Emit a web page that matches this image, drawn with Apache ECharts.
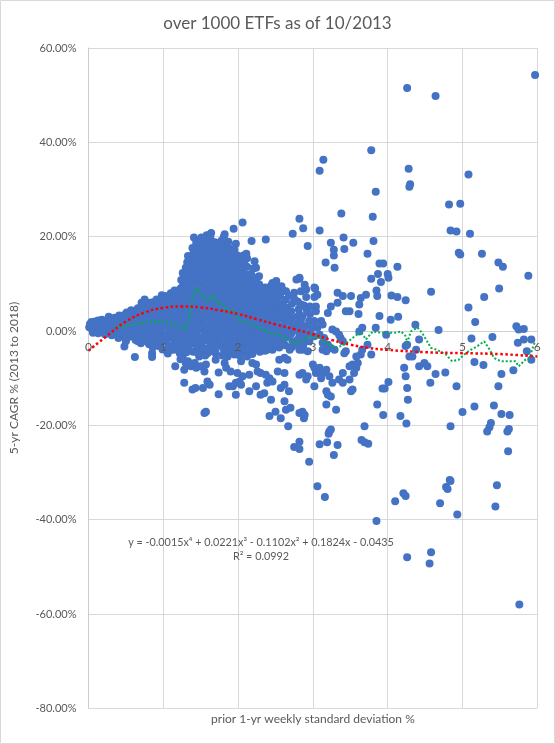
<!DOCTYPE html>
<html>
<head>
<meta charset="utf-8">
<script src="https://cdn.jsdelivr.net/npm/echarts@6/dist/echarts.min.js"></script>
<style>
html,body{margin:0;padding:0;background:#fff;}
#chart{width:555px;height:744px;}
</style>
</head>
<body>
<div id="chart"></div>
<script>
// ---- data: [prior 1-yr weekly std dev %, 5-yr CAGR %] ----
const lowVolEtfs = [
[0.01,0.8],[0.02,1.5],[0.05,0.3],[0.07,1.1],[0.09,2.0],[0.11,0.4],[0.13,-0.5],[0.15,1.3],[0.18,2.4],[0.19,0.2],
[0.22,-0.7],[0.23,1.0],[0.26,2.1],[0.27,3.0],[0.29,0.5],[0.31,-0.9],[0.33,1.7],[0.35,2.8],[0.36,0.0],[0.39,1.1],
[0.4,-1.5],[0.41,3.3],[0.43,2.1],[0.45,0.6],[0.46,-0.6],[0.48,-3.3],[0.5,-2.2],[0.5,1.5],[0.51,3.9],[0.52,2.7],
[0.54,0.2],[0.55,-1.2],[0.57,4.4],[0.58,1.9],[0.59,3.2],[0.6,-0.3],[0.62,-5.5],[0.62,0.9],[0.63,-1.9],[0.64,2.5],
[0.66,4.8],[0.67,3.7],[0.68,-0.9],[0.69,1.3],[0.69,4.9],[0.7,-2.6],[0.71,6.0],[0.72,0.2],[0.73,2.6],[0.74,4.2],
[0.75,6.7],[0.76,-1.6],[0.77,1.5],[0.78,3.3],[0.79,5.3],[0.8,-0.4],[0.81,-2.8],[0.82,2.2],[0.83,0.8],[0.84,4.5],
[0.85,-4.7],[0.85,-5.5],[0.86,6.1],[0.87,3.0],[0.88,-1.2],[0.89,1.7],[0.9,-2.2],[0.91,6.7],[0.91,4.2],[0.92,0.3],
[0.93,2.7],[0.94,-3.2],[0.95,5.4],[0.96,1.2],[0.97,-0.8],[0.98,7.6],[0.98,3.6],[0.99,-3.9]
];
const lowVolOverlap = [
[0.04,1.9],[0.06,-0.4],[0.1,1.0],[0.13,2.2],[0.16,0.3],[0.2,1.6],[0.21,-0.2],[0.25,0.6],[0.28,1.6],[0.3,-0.2],
[0.32,2.4],[0.34,0.9],[0.38,2.0],[0.38,-0.8],[0.42,1.3],[0.44,2.8],[0.44,-0.3],[0.47,0.8],[0.48,3.4],[0.49,-1.3],
[0.53,1.9],[0.55,3.3],[0.56,-0.3],[0.57,0.9],[0.6,2.6],[0.61,4.0],[0.61,-1.1],[0.65,0.1],[0.65,1.7],[0.66,-2.2],
[0.68,3.1],[0.7,4.4],[0.7,0.8],[0.72,-1.5],[0.73,5.4],[0.75,2.0],[0.76,-0.5],[0.77,3.8],[0.78,-2.2],[0.8,1.0],
[0.8,4.9],[0.81,6.0],[0.83,2.9],[0.84,-1.6],[0.85,0.1],[0.86,-3.5],[0.87,3.8],[0.88,5.3],[0.89,-0.4],[0.9,2.3],
[0.92,-1.6],[0.93,6.0],[0.93,1.0],[0.95,3.4],[0.96,-2.6],[0.97,4.6],[0.97,0.4],[0.99,6.8],[0.99,1.8],[1.0,-1.2],[1.0,3.3]
];
const coreEtfs = [
[1.02,7.4],[1.04,5.9],[1.03,4.1],[1.05,2.6],[1.02,1.0],[1.04,-0.7],[1.03,-2.2],[1.05,-3.8],[1.06,-4.8],[1.0,2.3],[1.01,5.0],
[1.1,8.0],[1.12,6.6],[1.11,5.0],[1.13,3.3],[1.1,1.8],[1.12,0.1],[1.11,-1.4],[1.13,-3.0],[1.1,-4.0],[1.16,-7.5],
[1.18,8.4],[1.2,7.8],[1.19,6.1],[1.21,4.6],[1.18,3.0],[1.2,1.4],[1.19,-0.3],[1.21,-1.8],[1.18,-3.4],[1.22,-4.7],
[1.26,12.3],[1.28,10.7],[1.26,9.5],[1.28,7.4],[1.27,5.8],[1.29,4.2],[1.26,2.6],[1.28,1.0],[1.27,-0.6],[1.29,-2.2],[1.26,-3.9],[1.28,-8.2],[1.28,-11.0],[1.26,-5.7],
[1.33,15.9],[1.3,13.4],[1.36,14.2],[1.35,12.6],[1.37,11.0],[1.34,9.4],[1.36,7.8],[1.35,6.2],[1.37,4.6],[1.34,3.0],[1.36,1.4],[1.35,-0.2],[1.37,-1.8],[1.34,-3.4],[1.33,-6.4],[1.37,-7.5],[1.38,15.2],[1.3,10.9],[1.3,-6.8],
[1.41,19.8],[1.44,18.7],[1.43,17.0],[1.45,15.4],[1.42,13.8],[1.44,12.2],[1.43,10.6],[1.45,9.0],[1.42,7.4],[1.44,5.8],[1.43,4.2],[1.45,2.6],[1.42,1.0],[1.44,-0.6],[1.43,-2.2],[1.45,-3.8],[1.44,-7.8],[1.42,-6.8],[1.39,-12.4],[1.43,-12.1],
[1.51,19.8],[1.49,18.0],[1.53,17.3],[1.5,16.4],[1.52,14.8],[1.51,13.2],[1.53,11.6],[1.5,10.0],[1.52,8.4],[1.51,6.8],[1.53,5.2],[1.5,3.6],[1.52,2.0],[1.51,0.4],[1.53,-1.2],[1.5,-2.8],[1.52,-4.4],[1.48,-5.4],[1.5,-7.5],[1.55,-8.6],[1.53,-12.1],[1.55,-17.4],
[1.58,20.3],[1.6,18.8],[1.59,17.2],[1.61,15.6],[1.58,14.0],[1.6,12.4],[1.59,10.8],[1.61,9.2],[1.58,7.6],[1.6,6.0],[1.59,4.4],[1.61,2.8],[1.58,1.2],[1.6,-0.4],[1.59,-2.0],[1.61,-3.6],[1.59,-4.7],[1.57,-7.1],[1.57,-17.1],[1.59,-10.7],[1.62,-11.4],[1.62,16.6],
[1.64,20.8],[1.69,18.8],[1.67,17.0],[1.68,15.4],[1.66,13.8],[1.68,12.2],[1.67,10.6],[1.69,9.0],[1.66,7.4],[1.68,5.8],[1.67,4.2],[1.69,2.6],[1.66,1.0],[1.68,-0.6],[1.67,-2.2],[1.69,-3.8],[1.71,16.9],
[1.73,18.0],[1.75,16.2],[1.74,14.6],[1.76,13.0],[1.73,11.4],[1.75,9.8],[1.74,8.2],[1.76,6.6],[1.73,5.0],[1.75,3.4],[1.74,1.8],[1.76,0.2],[1.73,-1.4],[1.75,-3.0],[1.7,-4.7],[1.7,-6.1],[1.74,-8.8],[1.74,-13.4],[1.79,17.8],
[1.82,20.5],[1.81,20.0],[1.84,18.4],[1.83,16.8],[1.85,15.2],[1.82,13.6],[1.84,12.0],[1.83,10.4],[1.85,8.8],[1.82,7.2],[1.84,5.6],[1.83,4.0],[1.85,2.4],[1.82,0.8],[1.84,-0.8],[1.83,-2.4],[1.85,-4.0],[1.82,-6.8],[1.84,-7.8],[1.86,-5.4],[1.88,-11.7],
[1.94,21.7],[1.93,16.4],[1.91,14.8],[1.92,13.2],[1.9,11.6],[1.92,10.0],[1.91,8.4],[1.93,6.8],[1.9,5.2],[1.92,3.6],[1.91,2.0],[1.93,0.4],[1.9,-1.2],[1.92,-2.8],[1.91,-4.4],[1.9,-8.6],[1.93,-11.7],[1.95,-5.0],[1.97,-13.5],[1.97,-11.0],[1.99,-8.9],
[1.99,16.0],[1.98,14.4],[2.0,12.8],[1.99,11.2],[1.98,9.6],[2.0,8.0],[1.99,6.4],[1.98,4.8],[2.0,3.2],[1.99,1.6],[1.98,0.0],[2.0,-1.6],[1.99,-3.2],[1.98,-4.8]
];
const coreOverlap = [
[1.07,6.8],[1.07,5.1],[1.08,3.5],[1.06,1.8],[1.08,0.3],[1.07,-1.4],[1.08,-3.0],[1.07,-4.2],
[1.15,7.3],[1.15,5.6],[1.16,4.0],[1.14,2.3],[1.16,0.8],[1.15,-0.9],[1.16,-2.5],[1.14,-4.0],[1.15,8.6],
[1.23,9.0],[1.24,7.0],[1.22,5.4],[1.24,3.8],[1.23,2.2],[1.22,0.6],[1.24,-1.0],[1.23,-2.8],[1.24,-4.4],[1.24,10.8],[1.23,-6.0],
[1.31,12.0],[1.32,10.0],[1.3,8.4],[1.32,6.8],[1.31,5.2],[1.3,3.6],[1.32,2.0],[1.31,0.4],[1.3,-1.2],[1.32,-2.8],[1.31,-4.5],[1.32,14.6],
[1.39,17.6],[1.4,16.4],[1.39,13.4],[1.4,11.8],[1.38,10.2],[1.4,8.6],[1.39,7.0],[1.38,5.4],[1.4,3.8],[1.39,2.2],[1.38,0.6],[1.4,-1.0],[1.39,-2.6],[1.4,-4.4],
[1.47,19.0],[1.47,17.2],[1.48,15.9],[1.46,14.4],[1.48,12.9],[1.47,11.3],[1.46,9.8],[1.48,8.1],[1.47,6.6],[1.46,5.0],[1.48,3.4],[1.47,1.8],[1.46,0.2],[1.48,-1.4],[1.47,-3.0],[1.46,-4.6],
[1.55,19.0],[1.56,17.6],[1.54,16.0],[1.56,14.4],[1.55,12.4],[1.54,10.8],[1.56,9.2],[1.55,7.6],[1.54,6.0],[1.56,4.4],[1.55,2.8],[1.54,1.2],[1.56,-0.4],[1.55,-2.0],[1.54,-3.6],[1.56,-5.2],
[1.63,19.6],[1.63,16.4],[1.64,14.8],[1.62,13.2],[1.64,11.6],[1.63,10.0],[1.62,8.4],[1.64,6.8],[1.63,5.2],[1.62,3.6],[1.64,2.0],[1.63,0.4],[1.62,-1.2],[1.64,-2.8],[1.63,-4.3],[1.64,18.0],
[1.71,18.0],[1.72,14.6],[1.7,13.0],[1.72,11.4],[1.71,9.8],[1.7,8.2],[1.72,6.6],[1.71,5.0],[1.7,3.4],[1.72,1.8],[1.71,0.2],[1.7,-1.4],[1.72,-3.0],[1.71,15.8],
[1.78,19.2],[1.79,15.5],[1.8,13.9],[1.78,12.3],[1.8,10.7],[1.79,9.1],[1.78,7.5],[1.8,5.9],[1.79,4.3],[1.78,2.7],[1.8,1.1],[1.79,-0.5],[1.78,-2.1],[1.8,-3.7],[1.79,16.9],[1.79,-5.2],
[1.87,18.9],[1.88,17.6],[1.86,16.0],[1.88,14.4],[1.87,12.8],[1.86,11.2],[1.88,9.6],[1.87,8.0],[1.86,6.4],[1.88,4.8],[1.87,3.2],[1.86,1.6],[1.88,0.0],[1.87,-1.6],[1.86,-3.2],[1.88,-4.7],
[1.95,15.2],[1.96,13.6],[1.94,12.0],[1.96,10.4],[1.95,8.8],[1.94,7.2],[1.96,5.6],[1.95,4.0],[1.94,2.4],[1.96,0.8],[1.95,-0.8],[1.94,-2.4],[1.96,-4.0],[1.95,17.2],[1.97,18.5]
];
const midVolEtfs = [
[2.06,23.0],[2.02,14.1],[2.06,13.0],[2.11,16.4],[2.18,19.1],[2.22,14.8],[2.24,13.4],[2.18,11.8],
[2.07,16.0],[2.08,14.6],[2.09,11.3],[2.07,9.8],[2.08,8.1],[2.09,6.5],[2.07,4.9],[2.08,3.3],[2.09,1.7],[2.07,0.1],[2.08,-1.5],[2.09,-2.9],[2.07,-4.3],[2.02,-10.7],[2.04,-11.4],[2.06,-9.6],[2.04,-6.4],[2.02,-4.0],
[2.15,10.2],[2.17,8.6],[2.16,7.0],[2.15,5.4],[2.17,3.8],[2.16,2.2],[2.15,0.6],[2.17,-1.0],[2.16,-2.6],[2.15,-4.2],[2.15,-9.3],[2.15,-12.8],[2.19,-6.8],
[2.24,10.5],[2.23,8.9],[2.25,7.3],[2.24,5.7],[2.23,4.1],[2.25,2.5],[2.24,0.9],[2.23,-0.7],[2.25,-2.3],[2.24,-3.9],[2.24,-7.1],[2.24,-11.7],[2.26,-8.6],[2.2,7.4],
[2.29,9.5],[2.33,7.0],[2.32,5.8],[2.31,4.4],[2.33,2.9],[2.32,1.3],[2.31,-0.3],[2.33,-1.9],[2.32,-3.5],[2.3,-8.9],[2.3,-13.5],[2.35,-13.2],[2.37,8.4],[2.37,19.4],[2.37,-9.3],
[2.4,9.0],[2.41,7.2],[2.39,5.6],[2.4,4.0],[2.41,2.4],[2.39,0.8],[2.4,-0.8],[2.41,-2.4],[2.39,-4.0],[2.42,-10.0],[2.39,-11.0],[2.44,-14.6],[2.46,-10.7],[2.42,-18.0],[2.46,-4.0],
[2.46,10.2],[2.49,8.8],[2.48,7.0],[2.47,5.4],[2.49,3.8],[2.48,2.2],[2.47,0.6],[2.49,-1.0],[2.48,-2.6],[2.5,-17.1],[2.51,10.6],
[2.58,9.5],[2.56,7.4],[2.55,5.8],[2.57,4.2],[2.56,2.6],[2.55,1.0],[2.57,-0.6],[2.56,-2.2],[2.55,-3.5],[2.53,-8.6],[2.57,-12.1],[2.57,-18.5],[2.55,-6.1],
[2.64,8.4],[2.63,6.6],[2.65,5.0],[2.64,3.4],[2.63,1.8],[2.65,0.2],[2.64,-1.4],[2.63,-3.0],[2.62,-5.7],[2.66,-6.1],[2.62,-8.9],[2.62,-11.4],[2.68,-12.8],[2.62,-14.9],[2.64,-16.7],[2.67,-20.2],
[2.75,8.1],[2.73,20.6],[2.72,5.8],[2.71,4.2],[2.73,2.6],[2.72,1.0],[2.71,-0.6],[2.73,-2.2],[2.72,-3.4],[2.7,-16.3],[2.75,-24.6],
[2.78,10.9],[2.82,11.3],[2.82,23.8],[2.8,6.2],[2.81,4.6],[2.82,3.5],[2.79,3.0],[2.82,0.7],[2.8,1.8],[2.82,-0.8],[2.8,-1.8],[2.82,-4.0],[2.82,-9.3],[2.82,-17.4],[2.82,-23.5],[2.82,-25.0],[2.82,11.1],[2.84,8.4],[2.86,-8.9],
[2.87,21.8],[2.89,9.8],[2.91,8.8],[2.91,7.2],[2.88,5.4],[2.86,3.1],[2.89,1.0],[2.88,-0.2],[2.89,-1.5],[2.87,-3.0],[2.86,-4.0],[2.91,-10.3],[2.88,-18.5],[2.86,-17.1],[2.89,-17.8],
[2.93,18.0],[2.95,2.1],[2.98,0.7],[2.95,-2.2],[2.93,-4.3],[2.96,5.2],[2.96,3.6],[2.97,-0.5],[2.93,-9.6],[2.95,-27.7]
];
const midVolOverlap = [
[2.03,15.2],[2.04,13.6],[2.03,12.0],[2.02,10.4],[2.04,8.8],[2.03,7.2],[2.02,5.6],[2.04,4.0],[2.03,2.4],[2.02,0.8],[2.04,-0.8],[2.03,-2.4],[2.02,-5.2],
[2.12,15.4],[2.12,13.6],[2.13,12.0],[2.11,10.6],[2.13,9.0],[2.12,7.4],[2.11,5.8],[2.13,4.2],[2.12,2.6],[2.11,1.0],[2.13,-0.6],[2.12,-2.2],[2.11,-3.8],[2.12,-5.4],
[2.2,13.2],[2.21,11.2],[2.19,9.6],[2.21,8.0],[2.2,6.2],[2.19,4.6],[2.21,3.0],[2.2,1.4],[2.19,-0.2],[2.21,-1.8],[2.2,-3.4],[2.19,-4.9],
[2.28,11.6],[2.28,9.9],[2.29,8.2],[2.27,6.6],[2.29,5.0],[2.28,3.4],[2.27,1.8],[2.29,0.2],[2.28,-1.4],[2.27,-3.0],[2.29,-4.4],
[2.36,9.2],[2.35,6.4],[2.36,4.8],[2.35,3.4],[2.36,1.8],[2.35,0.2],[2.36,-1.2],[2.35,-2.8],[2.36,-4.2],
[2.44,9.6],[2.43,8.0],[2.45,6.3],[2.44,4.7],[2.43,3.1],[2.45,1.5],[2.44,-0.1],[2.43,-1.7],[2.45,-3.2],
[2.52,9.2],[2.53,7.8],[2.51,6.2],[2.53,4.6],[2.52,3.0],[2.51,1.4],[2.53,-0.2],[2.52,-1.8],[2.51,-3.2],
[2.6,8.6],[2.61,5.2],[2.59,3.6],[2.6,0.4],[2.59,-1.2],[2.61,-2.8],
[2.68,7.4],[2.69,3.8],[2.67,2.2],[2.68,-1.0],[2.69,-4.0],
[2.76,6.6],[2.77,1.8],[2.76,0.2],[2.76,-2.8],
[2.84,5.6],[2.84,2.2],[2.85,-2.6],
[2.92,4.4],[2.93,-0.6]
];
const highVolEtfs = [
[3.14,36.3],[3.09,34.0],[3.78,38.3],[4.28,34.4],[5.08,33.2],[3.84,29.5],[4.29,30.6],[4.3,31.1],[4.82,26.8],[4.97,27.0],
[3.38,24.9],[3.8,24.2],[3.09,21.3],[4.84,21.3],[4.92,21.1],[5.1,20.6],[3.24,18.7],[3.41,19.8],[3.54,18.7],[3.81,19.1],
[3.28,17.2],[3.28,16.0],[3.42,17.4],[3.73,16.4],[4.95,16.6],[4.97,16.2],[5.26,16.4],[3.17,14.5],[3.29,13.4],[3.89,14.3],
[3.94,14.3],[3.87,12.1],[4.0,12.1],[4.01,11.3],[4.13,13.6],[3.78,11.1],[3.91,10.4],[5.48,14.5],[5.54,13.6],[5.88,11.7],
[3.03,9.0],[5.49,9.0],[4.26,51.5],[4.64,49.8],[5.97,54.3],
[3.02,7.2],[3.04,5.2],[3.04,4.2],[3.02,2.1],[3.11,2.1],[3.06,0.7],[3.13,1.4],[3.24,5.2],[3.2,3.8],[3.33,6.0],
[3.33,8.1],[3.4,7.4],[3.51,7.4],[3.49,4.2],[3.44,4.2],[3.62,5.6],[3.61,3.6],[3.64,7.0],[3.71,7.7],[3.02,9.2],
[3.06,7.7],[3.0,1.4],[4.58,8.3],[5.29,7.2],[5.08,5.0],[5.17,1.9],[4.68,0.2],[4.37,1.3],[4.14,3.0],[4.04,2.4],
[3.89,3.2],[3.85,8.6],[3.86,7.4],[4.05,7.5],[4.13,7.2],[4.24,6.5],[5.72,1.0],[5.75,0.3],[5.82,0.4],
[3.02,-1.1],[3.09,-0.8],[3.13,-2.5],[3.2,-2.9],[3.26,0.3],[3.31,-0.1],[3.35,-0.8],[3.37,-1.5],[3.4,-2.2],[3.15,-1.5],
[3.24,-3.6],[3.29,-4.0],[3.84,0.7],[3.98,-0.8],[4.24,-3.2],[4.26,-2.9],[4.38,-4.0],[4.42,-1.8],[3.66,0.7],[3.62,-0.1],
[3.73,-2.9],[3.66,-4.0],[3.64,-5.0],[3.58,-5.4],[3.78,-5.0],[3.44,-4.3],[3.42,-4.7],[3.18,-4.3],[3.13,-4.0],
[4.29,-5.4],[4.33,-5.4],[4.42,-7.5],[4.49,-6.8],[4.53,-7.5],[4.22,-7.8],[4.24,-9.6],[4.26,-12.1],[4.27,-14.6],[3.93,-12.2],
[3.96,-12.2],[4.01,-10.8],[4.57,-11.0],[4.64,-9.1],[4.77,-8.8],[4.92,-11.7],[5.16,-6.6],[5.28,-7.2],[5.12,-1.6],[5.4,-1.3],
[5.52,-9.1],[5.48,-11.7],[5.68,-8.3],[5.74,-2.5],[5.82,-1.8],[5.92,-1.8],[5.86,-4.3],[5.92,-6.1],[5.16,-16.0],[5.42,-15.8],
[5.0,-17.2],[5.52,-17.6],[5.63,-17.8],[3.86,-15.6],[3.94,-17.8],[4.17,-18.0],[4.25,-19.6],[4.84,-20.2],[5.38,-19.5],
[3.0,-7.1],[3.02,-7.8],[3.04,-8.9],[3.09,-7.8],[3.13,-8.9],[3.18,-8.2],[3.11,-10.0],[3.22,-9.6],[3.26,-11.0],[3.02,-11.7],
[3.53,-7.1],[3.58,-7.8],[3.55,-8.9],[3.6,-6.8],[3.49,-7.5],[3.4,-8.9],[3.35,-10.3],[3.4,-11.0],[3.49,-10.3],[3.53,-12.4],
[3.51,-12.8],[3.18,-12.8],[3.2,-13.5],[3.24,-13.9],[3.18,-15.6],[3.31,-16.7],
[3.69,-20.2],[5.36,-20.4],[5.33,-21.3],[5.6,-21.3],[5.62,-20.8],[5.61,-25.5],[3.22,-21.3],[3.24,-20.9],[3.21,-21.8],[3.19,-23.6],
[3.09,-24.0],[3.33,-24.2],[3.28,-26.3],[3.65,-23.1],[3.69,-23.6],[3.74,-23.9],[3.06,-32.9],[3.16,-35.2],[4.1,-36.1],[4.21,-34.4],
[4.24,-35.0],[4.7,-36.5],[4.78,-33.1],[4.8,-33.5],[4.83,-31.6],[4.84,-31.8],[4.93,-38.9],[5.46,-32.7],[5.44,-37.2],[3.85,-40.3],
[4.26,-48.0],[4.58,-46.9],[4.56,-49.3],[5.76,-58.0]
];
// 4th-order polynomial trendline
const polyTrend = [
[0,-4.2],[0.25,-1.0],[0.5,2.0],[0.75,3.9],[1,4.9],[1.25,5.2],[1.5,5.0],[1.75,4.4],[2,3.6],[2.25,2.5],
[2.5,1.4],[2.75,0.4],[3,-0.7],[3.25,-1.9],[3.5,-2.9],[3.75,-3.6],[4,-4.0],[4.5,-4.5],[5,-4.7],[5.5,-4.9],[6,-5.4]
];
// moving-average trendline
const movingAvg = [
[0.35,0.7],[0.6,1.4],[0.73,1.7],[0.91,2.1],[1.09,1.7],[1.22,1.0],[1.29,0.3],[1.35,3.1],[1.38,6.0],[1.44,9.2],
[1.53,7.4],[1.6,6.3],[1.66,7.7],[1.73,6.0],[1.8,5.6],[1.86,3.8],[1.93,4.5],[2.02,2.1],[2.15,1.7],[2.29,0.7],
[2.42,-0.4],[2.55,-0.8],[2.69,-2.2],[2.82,-2.5],[2.95,-1.1],[3.09,-1.5],[3.22,-2.9],[3.31,-3.6],[3.42,-2.9],[3.53,-1.5],
[3.64,-0.1],[3.71,-1.8],[3.8,-0.1],[3.93,-0.4],[4.09,-0.4],[4.18,-0.1],[4.24,-1.1],[4.26,-2.5],[4.31,-0.1],[4.4,0.7],
[4.46,-0.4],[4.58,-3.6],[4.66,-4.0],[4.78,-5.0],[4.86,-6.4],[4.95,-6.1],[5.02,-5.0],[5.11,-4.0],[5.2,-3.2],[5.29,-2.2],
[5.35,-3.6],[5.42,-5.7],[5.51,-6.4],[5.62,-6.4],[5.71,-6.4],[5.75,-7.5],[5.84,-6.1],[5.9,-5.7],[5.93,-4.0],[5.97,-2.2]
];
const xTicks = [0,1,2,3,4,5,6];
const yTicks = [-80,-60,-40,-20,0,20,40,60];
const chartTitle = 'over 1000 ETFs as of 10/2013';
const xTitle = 'prior 1-yr weekly standard deviation %';
const yTitle = '5-yr CAGR % (2013 to 2018)';
const trendEquation = 'y = -0.0015x\u2074 + 0.0221x\u00b3 - 0.1102x\u00b2 + 0.1824x - 0.0435';
const trendR2 = 'R\u00b2 = 0.0992';

const FONT = 'Lato, "Open Sans", sans-serif';
const TXT = '#595959';
const GRIDC = '#d9d9d9';
const GRID_TOP = 48, GRID_BOTTOM = 35.7, H = 744;
// x axis sits on the 0% line: shift from grid bottom up to y=0
const plotH = H - GRID_TOP - GRID_BOTTOM;
const zeroOffset = -plotH * (0 - yTicks[0]) / (yTicks[yTicks.length-1] - yTicks[0]);

const dot = {type:'scatter',symbol:'circle',symbolSize:8,itemStyle:{color:'#4472C4',opacity:1},z:2,large:false,progressive:0};
const xMin = xTicks[0], xMax = xTicks[xTicks.length-1];
const chart = echarts.init(document.getElementById('chart'), null, {renderer:'canvas'});
chart.setOption({
  animation:false,
  backgroundColor:'#ffffff',
  textStyle:{fontFamily:FONT},
  title:{text:chartTitle,left:'center',top:10,
    textStyle:{fontFamily:FONT,fontSize:17,fontWeight:'normal',color:TXT}},
  grid:{left:88.5,right:17.7,top:GRID_TOP,bottom:GRID_BOTTOM,containLabel:false,outerBoundsMode:'none'},
  xAxis:[
    {type:'value',min:xMin,max:xMax,interval:1,offset:zeroOffset,z:0,
      axisLine:{show:true,onZero:false,lineStyle:{color:'#d0d0d0',width:1}},
      axisTick:{show:false},axisLabel:{show:false},
      splitLine:{show:true,lineStyle:{color:GRIDC,width:1}}},
    {type:'value',position:'bottom',min:xMin,max:xMax,interval:1,offset:zeroOffset,z:20,
      axisLine:{show:false,onZero:false},axisTick:{show:false},splitLine:{show:false},
      axisLabel:{color:TXT,fontSize:12,fontFamily:FONT,margin:10}}
  ],
  yAxis:{type:'value',min:yTicks[0],max:yTicks[yTicks.length-1],interval:20,
    axisLine:{show:true,onZero:false,lineStyle:{color:'#cccccc',width:1}},
    axisTick:{show:false},
    axisLabel:{color:TXT,fontSize:11,fontFamily:FONT,margin:12,formatter:v=>v.toFixed(2)+'%'},
    splitLine:{show:true,lineStyle:{color:GRIDC,width:1}}},
  series:[
    Object.assign({name:'low'},dot,{data:lowVolEtfs}),
    Object.assign({name:'lowO'},dot,{data:lowVolOverlap}),
    Object.assign({name:'core'},dot,{data:coreEtfs}),
    Object.assign({name:'coreO'},dot,{data:coreOverlap}),
    Object.assign({name:'mid'},dot,{data:midVolEtfs}),
    Object.assign({name:'midO'},dot,{data:midVolOverlap}),
    Object.assign({name:'high'},dot,{data:highVolEtfs}),
    {name:'ma',type:'line',data:movingAvg,showSymbol:false,symbol:'none',smooth:false,z:3,
      lineStyle:{color:'#00B050',width:2,type:[2,2]}},
    {name:'poly',type:'line',data:polyTrend,showSymbol:false,symbol:'none',smooth:0.5,z:4,
      lineStyle:{color:'#FF0000',width:2.5,type:[2.5,2.5]}}
  ],
  graphic:[
    {type:'rect',silent:true,shape:{x:0.5,y:0.5,width:554,height:743},style:{fill:'none',stroke:'#d9d9d9',lineWidth:1},z:0},
    {type:'text',x:312.9,y:719,style:{text:xTitle,fill:TXT,font:'12px '+FONT,align:'center',verticalAlign:'middle',textAlign:'center',textVerticalAlign:'middle'}},
    {type:'text',x:14,y:378,rotation:Math.PI/2,style:{text:yTitle,fill:TXT,font:'12px '+FONT,align:'center',verticalAlign:'middle',textAlign:'center',textVerticalAlign:'middle'}},
    {type:'text',x:261,y:543,style:{text:trendEquation,fill:TXT,font:'10.8px '+FONT,align:'center',verticalAlign:'middle',textAlign:'center',textVerticalAlign:'middle'},z:10},
    {type:'text',x:261,y:557,style:{text:trendR2,fill:TXT,font:'10.8px '+FONT,align:'center',verticalAlign:'middle',textAlign:'center',textVerticalAlign:'middle'},z:10}
  ]
});
</script>
</body>
</html>
